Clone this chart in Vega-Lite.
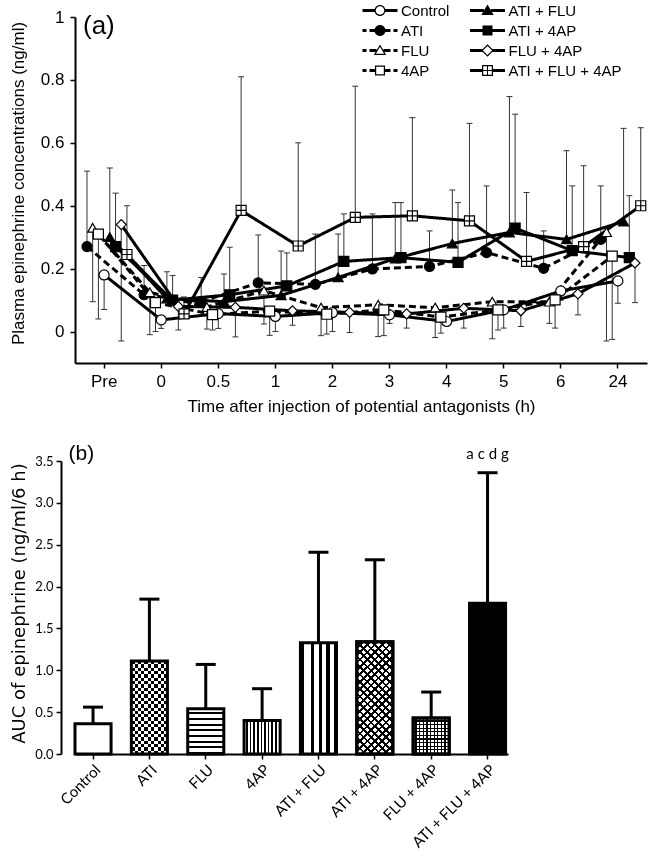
{
  "$schema": "https://vega.github.io/schema/vega-lite/v6.json",
  "padding": {"left": 9, "top": 0, "right": 0, "bottom": 0},
  "background": "white",
  "spacing": 28,
  "resolve": {"scale": {"fill": "independent", "shape": "independent", "strokeDash": "independent", "xOffset": "independent"}},
  "config": {
    "view": {"stroke": null},
    "axis": {"grid": false, "domainColor": "black", "tickColor": "black", "labelColor": "black", "titleColor": "black"}
  },
  "vconcat": [
    {
      "width": 572,
      "height": 346,
      "title": {"text": "(a)", "anchor": "start", "frame": "group", "orient": "top", "offset": -38, "dx": 8, "font": "Liberation Sans", "fontSize": 26, "fontWeight": "normal", "color": "black"},
      "data": {
        "values": [
          {"series": "Control", "time": "Pre", "mean": 0.18, "err": 0.07},
          {"series": "Control", "time": "0", "mean": 0.037, "err": 0.01},
          {"series": "Control", "time": "0.5", "mean": 0.057, "err": 0.01},
          {"series": "Control", "time": "1", "mean": 0.048, "err": 0.0},
          {"series": "Control", "time": "2", "mean": 0.06, "err": 0.0},
          {"series": "Control", "time": "3", "mean": 0.053, "err": 0.026},
          {"series": "Control", "time": "4", "mean": 0.032, "err": 0.021},
          {"series": "Control", "time": "5", "mean": 0.069, "err": 0.011},
          {"series": "Control", "time": "6", "mean": 0.129, "err": 0.1},
          {"series": "Control", "time": "24", "mean": 0.161, "err": 0.09},
          {"series": "ATI", "time": "Pre", "mean": 0.27, "err": 0.51},
          {"series": "ATI", "time": "0", "mean": 0.117, "err": 0.21},
          {"series": "ATI", "time": "0.5", "mean": 0.095, "err": 0.172},
          {"series": "ATI", "time": "1", "mean": 0.155, "err": 0.307},
          {"series": "ATI", "time": "2", "mean": 0.15, "err": 0.31},
          {"series": "ATI", "time": "3", "mean": 0.199, "err": 0.374},
          {"series": "ATI", "time": "4", "mean": 0.207, "err": 0.32},
          {"series": "ATI", "time": "5", "mean": 0.251, "err": 0.463},
          {"series": "ATI", "time": "6", "mean": 0.201, "err": 0.32},
          {"series": "ATI", "time": "24", "mean": 0.293, "err": 0.463},
          {"series": "FLU", "time": "Pre", "mean": 0.33, "err": 0.095},
          {"series": "FLU", "time": "0", "mean": 0.125, "err": -0.01},
          {"series": "FLU", "time": "0.5", "mean": 0.078, "err": 0.008},
          {"series": "FLU", "time": "1", "mean": 0.13, "err": 0.024},
          {"series": "FLU", "time": "2", "mean": 0.076, "err": -0.013},
          {"series": "FLU", "time": "3", "mean": 0.085, "err": -0.016},
          {"series": "FLU", "time": "4", "mean": 0.076, "err": -0.019},
          {"series": "FLU", "time": "5", "mean": 0.095, "err": -0.023},
          {"series": "FLU", "time": "6", "mean": 0.095, "err": 0.026},
          {"series": "FLU", "time": "24", "mean": 0.316, "err": -0.03},
          {"series": "4AP", "time": "Pre", "mean": 0.31, "err": 0.04},
          {"series": "4AP", "time": "0", "mean": 0.092, "err": 0.0},
          {"series": "4AP", "time": "0.5", "mean": 0.054, "err": 0.005},
          {"series": "4AP", "time": "1", "mean": 0.065, "err": -0.012},
          {"series": "4AP", "time": "2", "mean": 0.055, "err": -0.008},
          {"series": "4AP", "time": "3", "mean": 0.069, "err": -0.013},
          {"series": "4AP", "time": "4", "mean": 0.046, "err": -0.005},
          {"series": "4AP", "time": "5", "mean": 0.069, "err": 0.005},
          {"series": "4AP", "time": "6", "mean": 0.101, "err": 0.011},
          {"series": "4AP", "time": "24", "mean": 0.24, "err": -0.025},
          {"series": "ATI + FLU", "time": "Pre", "mean": 0.3, "err": 0.52},
          {"series": "ATI + FLU", "time": "0", "mean": 0.105, "err": 0.19},
          {"series": "ATI + FLU", "time": "0.5", "mean": 0.095, "err": 0.183},
          {"series": "ATI + FLU", "time": "1", "mean": 0.115, "err": 0.256},
          {"series": "ATI + FLU", "time": "2", "mean": 0.172, "err": 0.31},
          {"series": "ATI + FLU", "time": "3", "mean": 0.232, "err": 0.41},
          {"series": "ATI + FLU", "time": "4", "mean": 0.28, "err": 0.45},
          {"series": "ATI + FLU", "time": "5", "mean": 0.315, "err": 0.747},
          {"series": "ATI + FLU", "time": "6", "mean": 0.293, "err": 0.575},
          {"series": "ATI + FLU", "time": "24", "mean": 0.35, "err": 0.646},
          {"series": "ATI + 4AP", "time": "Pre", "mean": 0.27, "err": 0.44},
          {"series": "ATI + 4AP", "time": "0", "mean": 0.1, "err": 0.178},
          {"series": "ATI + 4AP", "time": "0.5", "mean": 0.117, "err": 0.268},
          {"series": "ATI + 4AP", "time": "1", "mean": 0.145, "err": 0.25},
          {"series": "ATI + 4AP", "time": "2", "mean": 0.223, "err": 0.374},
          {"series": "ATI + 4AP", "time": "3", "mean": 0.235, "err": 0.41},
          {"series": "ATI + 4AP", "time": "4", "mean": 0.22, "err": 0.41},
          {"series": "ATI + 4AP", "time": "5", "mean": 0.329, "err": 0.691},
          {"series": "ATI + 4AP", "time": "6", "mean": 0.257, "err": 0.463},
          {"series": "ATI + 4AP", "time": "24", "mean": 0.235, "err": 0.432},
          {"series": "FLU + 4AP", "time": "Pre", "mean": 0.34, "err": -0.03},
          {"series": "FLU + 4AP", "time": "0", "mean": 0.08, "err": 0.005},
          {"series": "FLU + 4AP", "time": "0.5", "mean": 0.077, "err": -0.017},
          {"series": "FLU + 4AP", "time": "1", "mean": 0.066, "err": 0.02},
          {"series": "FLU + 4AP", "time": "2", "mean": 0.061, "err": -0.003},
          {"series": "FLU + 4AP", "time": "3", "mean": 0.056, "err": 0.011},
          {"series": "FLU + 4AP", "time": "4", "mean": 0.074, "err": 0.011},
          {"series": "FLU + 4AP", "time": "5", "mean": 0.066, "err": 0.016},
          {"series": "FLU + 4AP", "time": "6", "mean": 0.12, "err": 0.053},
          {"series": "FLU + 4AP", "time": "24", "mean": 0.218, "err": 0.092},
          {"series": "ATI + FLU + 4AP", "time": "Pre", "mean": 0.245, "err": 0.4},
          {"series": "ATI + FLU + 4AP", "time": "0", "mean": 0.056, "err": 0.11},
          {"series": "ATI + FLU + 4AP", "time": "0.5", "mean": 0.385, "err": 0.81},
          {"series": "ATI + FLU + 4AP", "time": "1", "mean": 0.272, "err": 0.6},
          {"series": "ATI + FLU + 4AP", "time": "2", "mean": 0.363, "err": 0.78},
          {"series": "ATI + FLU + 4AP", "time": "3", "mean": 0.368, "err": 0.68},
          {"series": "ATI + FLU + 4AP", "time": "4", "mean": 0.352, "err": 0.662},
          {"series": "ATI + FLU + 4AP", "time": "5", "mean": 0.223, "err": 0.442},
          {"series": "ATI + FLU + 4AP", "time": "6", "mean": 0.27, "err": 0.527},
          {"series": "ATI + FLU + 4AP", "time": "24", "mean": 0.4, "err": 0.648}
        ]
      },
      "resolve": {"scale": {"shape": "independent"}, "legend": {"shape": "independent"}},
      "encoding": {
        "x": {
          "field": "time", "type": "nominal",
          "scale": {"domain": ["Pre", "0", "0.5", "1", "2", "3", "4", "5", "6", "24"], "paddingInner": 0.1, "paddingOuter": 0.06},
          "axis": {"title": "Time after injection of potential antagonists (h)", "labelAngle": 0, "labelFont": "Liberation Sans", "labelFontSize": 17, "titleFont": "Liberation Sans", "titleFontSize": 17, "titleFontWeight": "normal", "domainWidth": 2, "tickWidth": 1.5, "tickSize": 5, "labelPadding": 5, "titlePadding": 9}
        },
        "xOffset": {
          "field": "series", "type": "nominal",
          "scale": {"domain": ["_", "ATI", "FLU", "4AP", "Control", "ATI + FLU", "ATI + 4AP", "FLU + 4AP", "ATI + FLU + 4AP"], "paddingInner": 0, "paddingOuter": 0}
        }
      },
      "layer": [
        {
          "mark": {"type": "rule", "stroke": "#333333", "strokeWidth": 1},
          "encoding": {
            "y": {
              "field": "mean", "type": "quantitative", "title": "Plasma epinephrine concentrations (ng/ml)",
              "scale": {"domain": [-0.1, 1], "nice": false, "zero": false},
              "axis": {"values": [0, 0.2, 0.4, 0.6, 0.8, 1], "format": "~g", "labelFont": "Liberation Sans", "labelFontSize": 17, "titleFont": "Liberation Sans", "titleFontSize": 17, "titleFontWeight": "normal", "domainWidth": 2, "tickWidth": 1.5, "tickSize": 5, "labelPadding": 6, "titleX": -57, "titleY": 166, "titleBaseline": "middle"}
            },
            "y2": {"field": "err"}
          }
        },
        {
          "mark": {"type": "tick", "orient": "horizontal", "size": 6, "thickness": 1, "color": "#333333", "opacity": 1},
          "encoding": {
            "y": {"field": "err", "type": "quantitative", "title": "Plasma epinephrine concentrations (ng/ml)"}
          }
        },
        {
          "mark": {"type": "line", "stroke": "black", "strokeWidth": 3},
          "encoding": {
            "y": {"field": "mean", "type": "quantitative", "title": "Plasma epinephrine concentrations (ng/ml)"},
            "strokeDash": {
              "field": "series", "type": "nominal", "legend": null,
              "scale": {"domain": ["Control", "ATI", "FLU", "4AP", "ATI + FLU", "ATI + 4AP", "FLU + 4AP", "ATI + FLU + 4AP"], "range": [[1, 0], [7, 4], [7, 4], [7, 4], [1, 0], [1, 0], [1, 0], [1, 0]]}
            }
          }
        },
        {
          "mark": {"type": "point", "filled": true, "stroke": "black", "strokeWidth": 1.2, "size": 100, "opacity": 1},
          "encoding": {
            "y": {"field": "mean", "type": "quantitative", "title": "Plasma epinephrine concentrations (ng/ml)"},
            "fill": {
              "field": "series", "type": "nominal", "legend": null,
              "scale": {"domain": ["Control", "ATI", "FLU", "4AP", "ATI + FLU", "ATI + 4AP", "FLU + 4AP", "ATI + FLU + 4AP"], "range": ["white", "black", "white", "white", "black", "black", "white", "white"]}
            },
            "shape": {
              "field": "series", "type": "nominal", "legend": null,
              "scale": {"domain": ["Control", "ATI", "FLU", "4AP", "ATI + FLU", "ATI + 4AP", "FLU + 4AP", "ATI + FLU + 4AP"], "range": ["circle", "circle", "triangle-up", "square", "triangle-up", "square", "diamond", "M-1,-1H1V1H-1ZM0,-1V1M-1,0H1"]}
            }
          }
        },
        {
          "transform": [{"filter": "datum.mean > 10"}],
          "mark": {"type": "point", "filled": true, "fill": "black", "strokeWidth": 0, "size": 400, "opacity": 1},
          "encoding": {
            "y": {"field": "mean", "type": "quantitative", "title": "Plasma epinephrine concentrations (ng/ml)"},
            "shape": {
              "field": "series", "type": "nominal",
              "scale": {
                "domain": ["Control", "ATI + FLU", "ATI", "ATI + 4AP", "FLU", "FLU + 4AP", "4AP", "ATI + FLU + 4AP"],
                "range": [
                  "M-1.75,-0.14H-0.45V0.14H-1.75ZM0.45,-0.14H1.75V0.14H0.45ZM-0.55,0A0.55,0.55 0 1,1 0.55,0A0.55,0.55 0 1,1 -0.55,0ZM-0.42,0A0.42,0.42 0 1,0 0.42,0A0.42,0.42 0 1,0 -0.42,0Z",
                  "M-1.75,-0.14H-0.35V0.14H-1.75ZM0.35,-0.14H1.75V0.14H0.35ZM0,-0.6L0.62,0.45L-0.62,0.45Z",
                  "M-1.75,-0.14H-1.35V0.14H-1.75ZM-1.05,-0.14H-0.45V0.14H-1.05ZM0.45,-0.14H1.05V0.14H0.45ZM1.35,-0.14H1.75V0.14H1.35ZM-0.55,0A0.55,0.55 0 1,1 0.55,0A0.55,0.55 0 1,1 -0.55,0Z",
                  "M-1.75,-0.14H-0.45V0.14H-1.75ZM0.45,-0.14H1.75V0.14H0.45ZM-0.5,-0.5H0.5V0.5H-0.5Z",
                  "M-1.75,-0.14H-1.35V0.14H-1.75ZM-1.05,-0.14H-0.35V0.14H-1.05ZM0.35,-0.14H1.05V0.14H0.35ZM1.35,-0.14H1.75V0.14H1.35ZM0,-0.6L0.62,0.45L-0.62,0.45ZM0,-0.364L-0.41,0.33L0.41,0.33Z",
                  "M-1.75,-0.14H-0.45V0.14H-1.75ZM0.45,-0.14H1.75V0.14H0.45ZM0,-0.62L0.62,0L0,0.62L-0.62,0ZM0,-0.46L-0.46,0L0,0.46L0.46,0Z",
                  "M-1.75,-0.14H-1.35V0.14H-1.75ZM-1.05,-0.14H-0.45V0.14H-1.05ZM0.45,-0.14H1.05V0.14H0.45ZM1.35,-0.14H1.75V0.14H1.35ZM-0.5,-0.5H0.5V0.5H-0.5ZM-0.38,-0.38V0.38H0.38V-0.38Z",
                  "M-1.75,-0.14H-0.45V0.14H-1.75ZM0.45,-0.14H1.75V0.14H0.45ZM-0.55,-0.55H0.55V0.55H-0.55ZM-0.43,-0.43V0.43H0.43V-0.43ZM-0.05,-0.43H0.05V0.43H-0.05ZM-0.43,-0.05H0.43V0.05H-0.43Z"
                ]
              },
              "legend": {
                "title": null, "orient": "none", "legendX": 295, "legendY": -16.5, "columns": 2, "direction": "horizontal",
                "symbolSize": 400, "symbolStrokeWidth": 0, "symbolFillColor": "black", "symbolOpacity": 1,
                "labelFont": "Liberation Sans", "labelFontSize": 15, "labelColor": "black",
                "labelOffset": 11, "columnPadding": 19.5, "rowPadding": 2, "padding": 0
              }
            }
          }
        }
      ]
    },
    {
      "width": 433,
      "height": 293,
      "title": {"text": "(b)", "anchor": "start", "frame": "group", "orient": "top", "offset": -17, "dx": -6.5, "font": "Liberation Sans", "fontSize": 21, "fontWeight": "normal", "color": "black"},
      "data": {
        "values": [
          {"group": "Control", "auc": 0.36, "err": 0.56, "sig": ""},
          {"group": "ATI", "auc": 1.11, "err": 1.85, "sig": ""},
          {"group": "FLU", "auc": 0.54, "err": 1.07, "sig": ""},
          {"group": "4AP", "auc": 0.4, "err": 0.78, "sig": ""},
          {"group": "ATI + FLU", "auc": 1.33, "err": 2.41, "sig": ""},
          {"group": "ATI + 4AP", "auc": 1.34, "err": 2.32, "sig": ""},
          {"group": "FLU + 4AP", "auc": 0.43, "err": 0.74, "sig": ""},
          {"group": "ATI + FLU + 4AP", "auc": 1.8, "err": 3.36, "sig": "a c d g"}
        ]
      },
      "encoding": {
        "x": {
          "field": "group", "type": "nominal",
          "scale": {"domain": ["Control", "ATI", "FLU", "4AP", "ATI + FLU", "ATI + 4AP", "FLU + 4AP", "ATI + FLU + 4AP"], "paddingInner": 0.36, "paddingOuter": 0.0215, "align": 0},
          "axis": {"title": null, "labelAngle": -45, "labelFont": "Lato", "labelFontSize": 15, "domainWidth": 2, "tickWidth": 1.5, "tickSize": 5, "labelPadding": 3}
        }
      },
      "layer": [
        {
          "transform": [{"filter": {"field": "group", "oneOf": ["Control", "ATI + FLU + 4AP"]}}],
          "mark": {"type": "bar", "stroke": "black", "strokeWidth": 3},
          "encoding": {
            "y": {
              "field": "auc", "type": "quantitative", "title": "AUC of epinephrine  (ng/ml/6 h)",
              "scale": {"domain": [0, 3.5], "nice": false},
              "axis": {"values": [0, 0.5, 1, 1.5, 2, 2.5, 3, 3.5], "format": ".1f", "offset": 14, "labelFont": "Lato", "labelFontSize": 13, "titleFont": "DejaVu Sans", "titleFontSize": 18, "titleFontWeight": "normal", "domainWidth": 2, "tickWidth": 1.5, "tickSize": 5, "labelPadding": 3, "titleX": -42, "titleY": 142, "titleBaseline": "middle"}
            },
            "fill": {
              "field": "group", "type": "nominal", "legend": null,
              "scale": {"domain": ["Control", "ATI + FLU + 4AP"], "range": ["white", "black"]}
            }
          }
        },
        {
          "transform": [{"filter": {"field": "group", "equal": "ATI"}}],
          "mark": {
            "type": "bar", "stroke": "black", "strokeWidth": 3,
            "fill": {"gradient": "linear", "x1": 0, "y1": 0, "x2": 0, "y2": 1, "stops": [
              {"offset": 0, "color": "white"}, {"offset": 0.0357, "color": "white"}, {"offset": 0.0357, "color": "black"}, {"offset": 0.0714, "color": "black"},
              {"offset": 0.0714, "color": "white"}, {"offset": 0.1071, "color": "white"}, {"offset": 0.1071, "color": "black"}, {"offset": 0.1429, "color": "black"},
              {"offset": 0.1429, "color": "white"}, {"offset": 0.1786, "color": "white"}, {"offset": 0.1786, "color": "black"}, {"offset": 0.2143, "color": "black"},
              {"offset": 0.2143, "color": "white"}, {"offset": 0.25, "color": "white"}, {"offset": 0.25, "color": "black"}, {"offset": 0.2857, "color": "black"},
              {"offset": 0.2857, "color": "white"}, {"offset": 0.3214, "color": "white"}, {"offset": 0.3214, "color": "black"}, {"offset": 0.3571, "color": "black"},
              {"offset": 0.3571, "color": "white"}, {"offset": 0.3929, "color": "white"}, {"offset": 0.3929, "color": "black"}, {"offset": 0.4286, "color": "black"},
              {"offset": 0.4286, "color": "white"}, {"offset": 0.4643, "color": "white"}, {"offset": 0.4643, "color": "black"}, {"offset": 0.5, "color": "black"},
              {"offset": 0.5, "color": "white"}, {"offset": 0.5357, "color": "white"}, {"offset": 0.5357, "color": "black"}, {"offset": 0.5714, "color": "black"},
              {"offset": 0.5714, "color": "white"}, {"offset": 0.6071, "color": "white"}, {"offset": 0.6071, "color": "black"}, {"offset": 0.6429, "color": "black"},
              {"offset": 0.6429, "color": "white"}, {"offset": 0.6786, "color": "white"}, {"offset": 0.6786, "color": "black"}, {"offset": 0.7143, "color": "black"},
              {"offset": 0.7143, "color": "white"}, {"offset": 0.75, "color": "white"}, {"offset": 0.75, "color": "black"}, {"offset": 0.7857, "color": "black"},
              {"offset": 0.7857, "color": "white"}, {"offset": 0.8214, "color": "white"}, {"offset": 0.8214, "color": "black"}, {"offset": 0.8571, "color": "black"},
              {"offset": 0.8571, "color": "white"}, {"offset": 0.8929, "color": "white"}, {"offset": 0.8929, "color": "black"}, {"offset": 0.9286, "color": "black"},
              {"offset": 0.9286, "color": "white"}, {"offset": 0.9643, "color": "white"}, {"offset": 0.9643, "color": "black"}, {"offset": 1, "color": "black"}
            ]}
          },
          "encoding": {"y": {"field": "auc", "type": "quantitative", "title": "AUC of epinephrine  (ng/ml/6 h)"}}
        },
        {
          "transform": [{"filter": {"field": "group", "equal": "ATI"}}],
          "mark": {
            "type": "bar", "stroke": "black", "strokeWidth": 3, "blend": "difference",
            "fill": {"gradient": "linear", "x1": 0, "y1": 0, "x2": 1, "y2": 0, "stops": [
              {"offset": 0, "color": "white"}, {"offset": 0.0909, "color": "white"}, {"offset": 0.0909, "color": "black"}, {"offset": 0.1818, "color": "black"},
              {"offset": 0.1818, "color": "white"}, {"offset": 0.2727, "color": "white"}, {"offset": 0.2727, "color": "black"}, {"offset": 0.3636, "color": "black"},
              {"offset": 0.3636, "color": "white"}, {"offset": 0.4545, "color": "white"}, {"offset": 0.4545, "color": "black"}, {"offset": 0.5455, "color": "black"},
              {"offset": 0.5455, "color": "white"}, {"offset": 0.6364, "color": "white"}, {"offset": 0.6364, "color": "black"}, {"offset": 0.7273, "color": "black"},
              {"offset": 0.7273, "color": "white"}, {"offset": 0.8182, "color": "white"}, {"offset": 0.8182, "color": "black"}, {"offset": 0.9091, "color": "black"},
              {"offset": 0.9091, "color": "white"}, {"offset": 1, "color": "white"}
            ]}
          },
          "encoding": {"y": {"field": "auc", "type": "quantitative", "title": "AUC of epinephrine  (ng/ml/6 h)"}}
        },
        {
          "transform": [{"filter": {"field": "group", "equal": "FLU"}}],
          "mark": {
            "type": "bar", "stroke": "black", "strokeWidth": 3,
            "fill": {"gradient": "linear", "x1": 0, "y1": 0, "x2": 0, "y2": 1, "stops": [
              {"offset": 0, "color": "white"}, {"offset": 0.0775, "color": "white"}, {"offset": 0.0775, "color": "black"}, {"offset": 0.125, "color": "black"},
              {"offset": 0.125, "color": "white"}, {"offset": 0.2025, "color": "white"}, {"offset": 0.2025, "color": "black"}, {"offset": 0.25, "color": "black"},
              {"offset": 0.25, "color": "white"}, {"offset": 0.3275, "color": "white"}, {"offset": 0.3275, "color": "black"}, {"offset": 0.375, "color": "black"},
              {"offset": 0.375, "color": "white"}, {"offset": 0.4525, "color": "white"}, {"offset": 0.4525, "color": "black"}, {"offset": 0.5, "color": "black"},
              {"offset": 0.5, "color": "white"}, {"offset": 0.5775, "color": "white"}, {"offset": 0.5775, "color": "black"}, {"offset": 0.625, "color": "black"},
              {"offset": 0.625, "color": "white"}, {"offset": 0.7025, "color": "white"}, {"offset": 0.7025, "color": "black"}, {"offset": 0.75, "color": "black"},
              {"offset": 0.75, "color": "white"}, {"offset": 0.8275, "color": "white"}, {"offset": 0.8275, "color": "black"}, {"offset": 0.875, "color": "black"},
              {"offset": 0.875, "color": "white"}, {"offset": 0.9525, "color": "white"}, {"offset": 0.9525, "color": "black"}, {"offset": 1, "color": "black"}
            ]}
          },
          "encoding": {"y": {"field": "auc", "type": "quantitative", "title": "AUC of epinephrine  (ng/ml/6 h)"}}
        },
        {
          "transform": [{"filter": {"field": "group", "equal": "4AP"}}],
          "mark": {
            "type": "bar", "stroke": "black", "strokeWidth": 3,
            "fill": {"gradient": "linear", "x1": 0, "y1": 0, "x2": 1, "y2": 0, "stops": [
              {"offset": 0, "color": "white"}, {"offset": 0.06, "color": "white"}, {"offset": 0.06, "color": "black"}, {"offset": 0.1, "color": "black"},
              {"offset": 0.1, "color": "white"}, {"offset": 0.16, "color": "white"}, {"offset": 0.16, "color": "black"}, {"offset": 0.2, "color": "black"},
              {"offset": 0.2, "color": "white"}, {"offset": 0.26, "color": "white"}, {"offset": 0.26, "color": "black"}, {"offset": 0.3, "color": "black"},
              {"offset": 0.3, "color": "white"}, {"offset": 0.36, "color": "white"}, {"offset": 0.36, "color": "black"}, {"offset": 0.4, "color": "black"},
              {"offset": 0.4, "color": "white"}, {"offset": 0.46, "color": "white"}, {"offset": 0.46, "color": "black"}, {"offset": 0.5, "color": "black"},
              {"offset": 0.5, "color": "white"}, {"offset": 0.56, "color": "white"}, {"offset": 0.56, "color": "black"}, {"offset": 0.6, "color": "black"},
              {"offset": 0.6, "color": "white"}, {"offset": 0.66, "color": "white"}, {"offset": 0.66, "color": "black"}, {"offset": 0.7, "color": "black"},
              {"offset": 0.7, "color": "white"}, {"offset": 0.76, "color": "white"}, {"offset": 0.76, "color": "black"}, {"offset": 0.8, "color": "black"},
              {"offset": 0.8, "color": "white"}, {"offset": 0.86, "color": "white"}, {"offset": 0.86, "color": "black"}, {"offset": 0.9, "color": "black"},
              {"offset": 0.9, "color": "white"}, {"offset": 0.96, "color": "white"}, {"offset": 0.96, "color": "black"}, {"offset": 1, "color": "black"}
            ]}
          },
          "encoding": {"y": {"field": "auc", "type": "quantitative", "title": "AUC of epinephrine  (ng/ml/6 h)"}}
        },
        {
          "transform": [{"filter": {"field": "group", "equal": "ATI + FLU"}}],
          "mark": {
            "type": "bar", "stroke": "black", "strokeWidth": 3,
            "fill": {"gradient": "linear", "x1": 0, "y1": 0, "x2": 1, "y2": 0, "stops": [
              {"offset": 0, "color": "black"}, {"offset": 0.11, "color": "black"}, {"offset": 0.11, "color": "white"}, {"offset": 0.285, "color": "white"},
              {"offset": 0.285, "color": "black"}, {"offset": 0.375, "color": "black"}, {"offset": 0.375, "color": "white"}, {"offset": 0.505, "color": "white"},
              {"offset": 0.505, "color": "black"}, {"offset": 0.595, "color": "black"}, {"offset": 0.595, "color": "white"}, {"offset": 0.72, "color": "white"},
              {"offset": 0.72, "color": "black"}, {"offset": 0.81, "color": "black"}, {"offset": 0.81, "color": "white"}, {"offset": 0.94, "color": "white"},
              {"offset": 0.94, "color": "black"}, {"offset": 1, "color": "black"}
            ]}
          },
          "encoding": {"y": {"field": "auc", "type": "quantitative", "title": "AUC of epinephrine  (ng/ml/6 h)"}}
        },
        {
          "transform": [{"filter": {"field": "group", "equal": "ATI + 4AP"}}],
          "mark": {
            "type": "bar", "stroke": "black", "strokeWidth": 3,
            "fill": {"gradient": "linear", "x1": 0, "y1": 0, "x2": 0.383, "y2": 1.197, "stops": [
              {"offset": 0, "color": "white"}, {"offset": 0.032, "color": "white"}, {"offset": 0.032, "color": "black"}, {"offset": 0.05, "color": "black"},
              {"offset": 0.05, "color": "white"}, {"offset": 0.082, "color": "white"}, {"offset": 0.082, "color": "black"}, {"offset": 0.1, "color": "black"},
              {"offset": 0.1, "color": "white"}, {"offset": 0.132, "color": "white"}, {"offset": 0.132, "color": "black"}, {"offset": 0.15, "color": "black"},
              {"offset": 0.15, "color": "white"}, {"offset": 0.182, "color": "white"}, {"offset": 0.182, "color": "black"}, {"offset": 0.2, "color": "black"},
              {"offset": 0.2, "color": "white"}, {"offset": 0.232, "color": "white"}, {"offset": 0.232, "color": "black"}, {"offset": 0.25, "color": "black"},
              {"offset": 0.25, "color": "white"}, {"offset": 0.282, "color": "white"}, {"offset": 0.282, "color": "black"}, {"offset": 0.3, "color": "black"},
              {"offset": 0.3, "color": "white"}, {"offset": 0.332, "color": "white"}, {"offset": 0.332, "color": "black"}, {"offset": 0.35, "color": "black"},
              {"offset": 0.35, "color": "white"}, {"offset": 0.382, "color": "white"}, {"offset": 0.382, "color": "black"}, {"offset": 0.4, "color": "black"},
              {"offset": 0.4, "color": "white"}, {"offset": 0.432, "color": "white"}, {"offset": 0.432, "color": "black"}, {"offset": 0.45, "color": "black"},
              {"offset": 0.45, "color": "white"}, {"offset": 0.482, "color": "white"}, {"offset": 0.482, "color": "black"}, {"offset": 0.5, "color": "black"},
              {"offset": 0.5, "color": "white"}, {"offset": 0.532, "color": "white"}, {"offset": 0.532, "color": "black"}, {"offset": 0.55, "color": "black"},
              {"offset": 0.55, "color": "white"}, {"offset": 0.582, "color": "white"}, {"offset": 0.582, "color": "black"}, {"offset": 0.6, "color": "black"},
              {"offset": 0.6, "color": "white"}, {"offset": 0.632, "color": "white"}, {"offset": 0.632, "color": "black"}, {"offset": 0.65, "color": "black"},
              {"offset": 0.65, "color": "white"}, {"offset": 0.682, "color": "white"}, {"offset": 0.682, "color": "black"}, {"offset": 0.7, "color": "black"},
              {"offset": 0.7, "color": "white"}, {"offset": 0.732, "color": "white"}, {"offset": 0.732, "color": "black"}, {"offset": 0.75, "color": "black"},
              {"offset": 0.75, "color": "white"}, {"offset": 0.782, "color": "white"}, {"offset": 0.782, "color": "black"}, {"offset": 0.8, "color": "black"},
              {"offset": 0.8, "color": "white"}, {"offset": 0.832, "color": "white"}, {"offset": 0.832, "color": "black"}, {"offset": 0.85, "color": "black"},
              {"offset": 0.85, "color": "white"}, {"offset": 0.882, "color": "white"}, {"offset": 0.882, "color": "black"}, {"offset": 0.9, "color": "black"},
              {"offset": 0.9, "color": "white"}, {"offset": 0.932, "color": "white"}, {"offset": 0.932, "color": "black"}, {"offset": 0.95, "color": "black"},
              {"offset": 0.95, "color": "white"}, {"offset": 0.982, "color": "white"}, {"offset": 0.982, "color": "black"}, {"offset": 1, "color": "black"}
            ]}
          },
          "encoding": {"y": {"field": "auc", "type": "quantitative", "title": "AUC of epinephrine  (ng/ml/6 h)"}}
        },
        {
          "transform": [{"filter": {"field": "group", "equal": "ATI + 4AP"}}],
          "mark": {
            "type": "bar", "stroke": "black", "strokeWidth": 3, "blend": "multiply",
            "fill": {"gradient": "linear", "x1": 1, "y1": 0, "x2": 0.617, "y2": 1.197, "stops": [
              {"offset": 0, "color": "white"}, {"offset": 0.032, "color": "white"}, {"offset": 0.032, "color": "black"}, {"offset": 0.05, "color": "black"},
              {"offset": 0.05, "color": "white"}, {"offset": 0.082, "color": "white"}, {"offset": 0.082, "color": "black"}, {"offset": 0.1, "color": "black"},
              {"offset": 0.1, "color": "white"}, {"offset": 0.132, "color": "white"}, {"offset": 0.132, "color": "black"}, {"offset": 0.15, "color": "black"},
              {"offset": 0.15, "color": "white"}, {"offset": 0.182, "color": "white"}, {"offset": 0.182, "color": "black"}, {"offset": 0.2, "color": "black"},
              {"offset": 0.2, "color": "white"}, {"offset": 0.232, "color": "white"}, {"offset": 0.232, "color": "black"}, {"offset": 0.25, "color": "black"},
              {"offset": 0.25, "color": "white"}, {"offset": 0.282, "color": "white"}, {"offset": 0.282, "color": "black"}, {"offset": 0.3, "color": "black"},
              {"offset": 0.3, "color": "white"}, {"offset": 0.332, "color": "white"}, {"offset": 0.332, "color": "black"}, {"offset": 0.35, "color": "black"},
              {"offset": 0.35, "color": "white"}, {"offset": 0.382, "color": "white"}, {"offset": 0.382, "color": "black"}, {"offset": 0.4, "color": "black"},
              {"offset": 0.4, "color": "white"}, {"offset": 0.432, "color": "white"}, {"offset": 0.432, "color": "black"}, {"offset": 0.45, "color": "black"},
              {"offset": 0.45, "color": "white"}, {"offset": 0.482, "color": "white"}, {"offset": 0.482, "color": "black"}, {"offset": 0.5, "color": "black"},
              {"offset": 0.5, "color": "white"}, {"offset": 0.532, "color": "white"}, {"offset": 0.532, "color": "black"}, {"offset": 0.55, "color": "black"},
              {"offset": 0.55, "color": "white"}, {"offset": 0.582, "color": "white"}, {"offset": 0.582, "color": "black"}, {"offset": 0.6, "color": "black"},
              {"offset": 0.6, "color": "white"}, {"offset": 0.632, "color": "white"}, {"offset": 0.632, "color": "black"}, {"offset": 0.65, "color": "black"},
              {"offset": 0.65, "color": "white"}, {"offset": 0.682, "color": "white"}, {"offset": 0.682, "color": "black"}, {"offset": 0.7, "color": "black"},
              {"offset": 0.7, "color": "white"}, {"offset": 0.732, "color": "white"}, {"offset": 0.732, "color": "black"}, {"offset": 0.75, "color": "black"},
              {"offset": 0.75, "color": "white"}, {"offset": 0.782, "color": "white"}, {"offset": 0.782, "color": "black"}, {"offset": 0.8, "color": "black"},
              {"offset": 0.8, "color": "white"}, {"offset": 0.832, "color": "white"}, {"offset": 0.832, "color": "black"}, {"offset": 0.85, "color": "black"},
              {"offset": 0.85, "color": "white"}, {"offset": 0.882, "color": "white"}, {"offset": 0.882, "color": "black"}, {"offset": 0.9, "color": "black"},
              {"offset": 0.9, "color": "white"}, {"offset": 0.932, "color": "white"}, {"offset": 0.932, "color": "black"}, {"offset": 0.95, "color": "black"},
              {"offset": 0.95, "color": "white"}, {"offset": 0.982, "color": "white"}, {"offset": 0.982, "color": "black"}, {"offset": 1, "color": "black"}
            ]}
          },
          "encoding": {"y": {"field": "auc", "type": "quantitative", "title": "AUC of epinephrine  (ng/ml/6 h)"}}
        },
        {
          "transform": [{"filter": {"field": "group", "equal": "FLU + 4AP"}}],
          "mark": {
            "type": "bar", "stroke": "black", "strokeWidth": 3,
            "fill": {"gradient": "linear", "x1": 0, "y1": 0, "x2": 0, "y2": 1, "stops": [
              {"offset": 0, "color": "white"}, {"offset": 0.065, "color": "white"}, {"offset": 0.065, "color": "black"}, {"offset": 0.1, "color": "black"},
              {"offset": 0.1, "color": "white"}, {"offset": 0.165, "color": "white"}, {"offset": 0.165, "color": "black"}, {"offset": 0.2, "color": "black"},
              {"offset": 0.2, "color": "white"}, {"offset": 0.265, "color": "white"}, {"offset": 0.265, "color": "black"}, {"offset": 0.3, "color": "black"},
              {"offset": 0.3, "color": "white"}, {"offset": 0.365, "color": "white"}, {"offset": 0.365, "color": "black"}, {"offset": 0.4, "color": "black"},
              {"offset": 0.4, "color": "white"}, {"offset": 0.465, "color": "white"}, {"offset": 0.465, "color": "black"}, {"offset": 0.5, "color": "black"},
              {"offset": 0.5, "color": "white"}, {"offset": 0.565, "color": "white"}, {"offset": 0.565, "color": "black"}, {"offset": 0.6, "color": "black"},
              {"offset": 0.6, "color": "white"}, {"offset": 0.665, "color": "white"}, {"offset": 0.665, "color": "black"}, {"offset": 0.7, "color": "black"},
              {"offset": 0.7, "color": "white"}, {"offset": 0.765, "color": "white"}, {"offset": 0.765, "color": "black"}, {"offset": 0.8, "color": "black"},
              {"offset": 0.8, "color": "white"}, {"offset": 0.865, "color": "white"}, {"offset": 0.865, "color": "black"}, {"offset": 0.9, "color": "black"},
              {"offset": 0.9, "color": "white"}, {"offset": 0.965, "color": "white"}, {"offset": 0.965, "color": "black"}, {"offset": 1, "color": "black"}
            ]}
          },
          "encoding": {"y": {"field": "auc", "type": "quantitative", "title": "AUC of epinephrine  (ng/ml/6 h)"}}
        },
        {
          "transform": [{"filter": {"field": "group", "equal": "FLU + 4AP"}}],
          "mark": {
            "type": "bar", "stroke": "black", "strokeWidth": 3, "blend": "multiply",
            "fill": {"gradient": "linear", "x1": 0, "y1": 0, "x2": 1, "y2": 0, "stops": [
              {"offset": 0, "color": "white"}, {"offset": 0.065, "color": "white"}, {"offset": 0.065, "color": "black"}, {"offset": 0.1, "color": "black"},
              {"offset": 0.1, "color": "white"}, {"offset": 0.165, "color": "white"}, {"offset": 0.165, "color": "black"}, {"offset": 0.2, "color": "black"},
              {"offset": 0.2, "color": "white"}, {"offset": 0.265, "color": "white"}, {"offset": 0.265, "color": "black"}, {"offset": 0.3, "color": "black"},
              {"offset": 0.3, "color": "white"}, {"offset": 0.365, "color": "white"}, {"offset": 0.365, "color": "black"}, {"offset": 0.4, "color": "black"},
              {"offset": 0.4, "color": "white"}, {"offset": 0.465, "color": "white"}, {"offset": 0.465, "color": "black"}, {"offset": 0.5, "color": "black"},
              {"offset": 0.5, "color": "white"}, {"offset": 0.565, "color": "white"}, {"offset": 0.565, "color": "black"}, {"offset": 0.6, "color": "black"},
              {"offset": 0.6, "color": "white"}, {"offset": 0.665, "color": "white"}, {"offset": 0.665, "color": "black"}, {"offset": 0.7, "color": "black"},
              {"offset": 0.7, "color": "white"}, {"offset": 0.765, "color": "white"}, {"offset": 0.765, "color": "black"}, {"offset": 0.8, "color": "black"},
              {"offset": 0.8, "color": "white"}, {"offset": 0.865, "color": "white"}, {"offset": 0.865, "color": "black"}, {"offset": 0.9, "color": "black"},
              {"offset": 0.9, "color": "white"}, {"offset": 0.965, "color": "white"}, {"offset": 0.965, "color": "black"}, {"offset": 1, "color": "black"}
            ]}
          },
          "encoding": {"y": {"field": "auc", "type": "quantitative", "title": "AUC of epinephrine  (ng/ml/6 h)"}}
        },
        {
          "mark": {"type": "rule", "stroke": "black", "strokeWidth": 3},
          "encoding": {
            "y": {"field": "auc", "type": "quantitative", "title": "AUC of epinephrine  (ng/ml/6 h)"},
            "y2": {"field": "err"}
          }
        },
        {
          "mark": {"type": "tick", "orient": "horizontal", "size": 20, "thickness": 3, "color": "black", "opacity": 1},
          "encoding": {"y": {"field": "err", "type": "quantitative", "title": "AUC of epinephrine  (ng/ml/6 h)"}}
        },
        {
          "mark": {"type": "text", "font": "Lato", "fontSize": 15, "color": "black", "dy": -19, "baseline": "middle"},
          "encoding": {
            "y": {"field": "err", "type": "quantitative", "title": "AUC of epinephrine  (ng/ml/6 h)"},
            "text": {"field": "sig"}
          }
        }
      ]
    }
  ]
}
